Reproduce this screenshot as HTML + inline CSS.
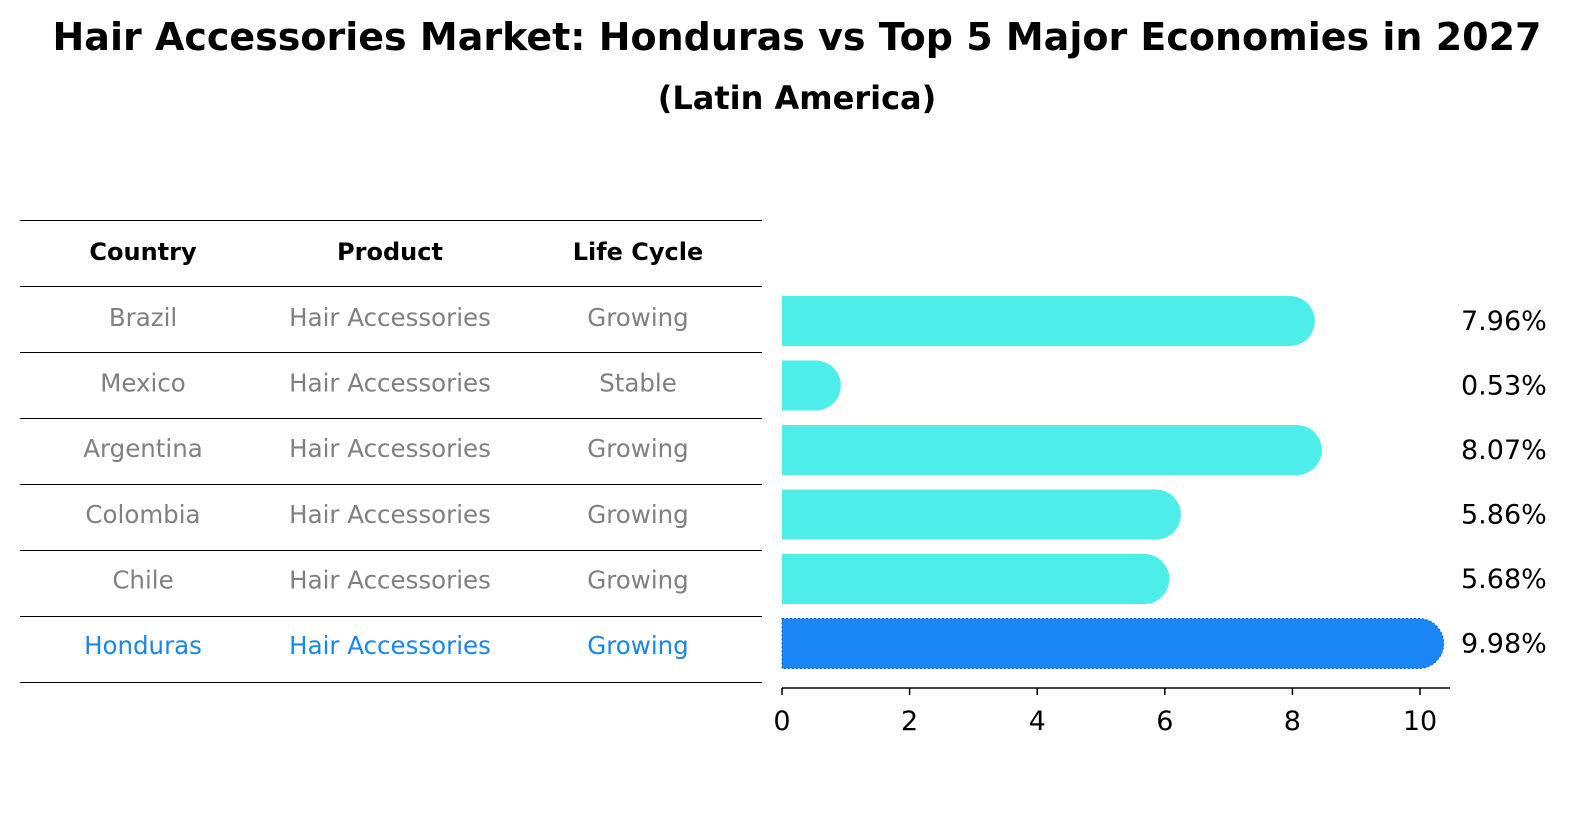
<!DOCTYPE html>
<html><head><meta charset="utf-8"><style>
body{margin:0;background:#fff;width:1588px;height:823px;overflow:hidden;font-family:"DejaVu Sans","Liberation Sans",sans-serif;}
</style></head><body>
<svg width="1588" height="823" xmlns="http://www.w3.org/2000/svg" id="svg" font-family="DejaVu Sans, Liberation Sans, sans-serif">
<text x="797" y="50" text-anchor="middle" font-size="38" font-weight="bold">Hair Accessories Market: Honduras vs Top 5 Major Economies in 2027</text>
<text x="797" y="109" text-anchor="middle" font-size="32" font-weight="bold">(Latin America)</text>
<g id="table"></g>
<g id="bars"></g>
</svg>
<script>
const countries=["Brazil","Mexico","Argentina","Colombia","Chile","Honduras"];
const products=["Hair Accessories","Hair Accessories","Hair Accessories","Hair Accessories","Hair Accessories","Hair Accessories"];
const lifeCycles=["Growing","Stable","Growing","Growing","Growing","Growing"];
const values=[7.96,0.53,8.07,5.86,5.68,9.98];
const ticks=[0,2,4,6,8,10];
const NS="http://www.w3.org/2000/svg";
function mk(t,a,p,txt){const e=document.createElementNS(NS,t);for(const k in a)e.setAttribute(k,a[k]);if(txt!==undefined)e.textContent=txt;p.appendChild(e);return e;}
const tbl=document.getElementById('table'),bars=document.getElementById('bars');
const x=v=>782+v*63.8;
const rowY=i=>321+i*64.5;
const colX=[143,390,638];
const headers=["Country","Product","Life Cycle"];
const lines=[220,286,352,418,484,550,616,682];
lines.forEach((ly,i)=>{const l=mk('line',{x1:20,x2:762,y1:ly+0.5,y2:ly+0.5,stroke:'#000','stroke-width':1},tbl);

});
headers.forEach((h,j)=>{const t=mk('text',{x:colX[j],y:260,'text-anchor':'middle','font-size':24,'font-weight':'bold'},tbl,h);

});
countries.forEach((c,i)=>{
 const isH=i===countries.length-1;
 const col=isH?'#1a86e8':'#808080';
 const cy=326+i*65.6;
 [c,products[i],lifeCycles[i]].forEach((v,j)=>{const t=mk('text',{x:colX[j],y:cy,'text-anchor':'middle','font-size':24.5,fill:col},tbl,v);
 
 });
 const fill=isH?'#1a86f5':'#4deeea';
 const yc=rowY(i),h=50,xe=x(values[i]);
 const p=mk('path',{d:`M782 ${yc-h/2} H${xe} A25 25 0 0 1 ${xe} ${yc+h/2} H782 Z`,fill:fill},bars);
 if(isH){p.setAttribute('stroke','#1060c0');p.setAttribute('stroke-dasharray','2 2');p.setAttribute('stroke-width','1');}
 
 
 const lb=mk('text',{x:1461,y:yc+9,'font-size':27},bars,values[i].toFixed(2)+'%');
 
 
});
const ax=mk('line',{x1:782,x2:1450,y1:688,y2:688,stroke:'#000','stroke-width':1.5},bars);


ticks.forEach(t=>{const tk=mk('line',{x1:x(t),x2:x(t),y1:688,y2:695,stroke:'#000','stroke-width':1.5},bars);


const tl=mk('text',{x:x(t),y:730,'text-anchor':'middle','font-size':27},bars,String(t));

});
</script>
</body></html>
